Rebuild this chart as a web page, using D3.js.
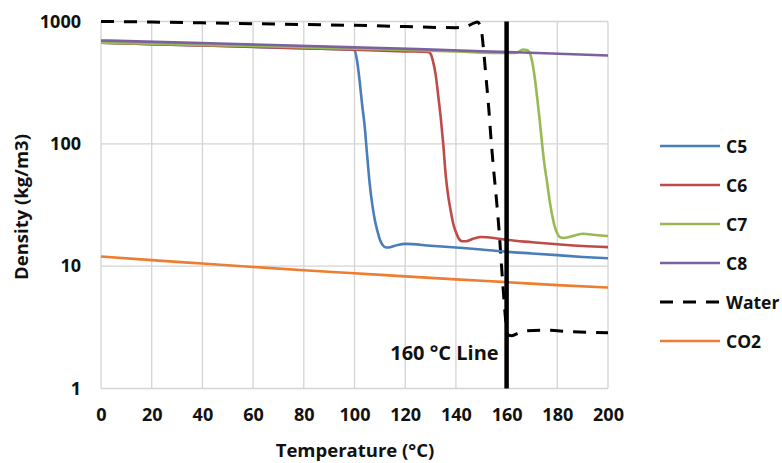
<!DOCTYPE html>
<html>
<head>
<meta charset="utf-8">
<script src="https://cdn.jsdelivr.net/npm/d3@7"></script>
<style>
  html, body { margin: 0; padding: 0; background: #fff; }
  svg { display: block; }
  text { font-family: "Open Sans", "Liberation Sans", sans-serif; fill: #111; }
</style>
</head>
<body>
<svg id="chart" width="782" height="463"></svg>
<script>
// ---- data ----
const xTicks = [0, 20, 40, 60, 80, 100, 120, 140, 160, 180, 200];
const yTicks = [1, 10, 100, 1000];
const seriesNames = ["C5", "C6", "C7", "C8", "Water", "CO2"];

const c5 = [[0,670],[20,652],[40,636],[60,620],[80,603],[100,585],[101,480],[102,330],[103,210],[104,140],[105,80],[106,47],[107,32],[108,24],[109,19.5],[110,16.5],[111,15],[112.5,14.2],[114,14.3],[117,14.9],[120,15.2],[130,14.7],[140,14.2],[150,13.7],[160,13.1],[170,12.7],[180,12.3],[190,11.9],[200,11.6]];
const c6 = [[0,670],[20,653],[40,637],[60,621],[80,604],[100,587],[120,570],[129,563],[130,545],[131,470],[132,370],[133,250],[134,165],[135,100],[136,55],[137,37],[138,28],[139,22],[140,19],[141,17],[142.5,16],[144,16.0],[147,16.8],[150,17.3],[155,17.0],[160,16.4],[170,15.7],[180,15.1],[190,14.6],[200,14.3]];
const c7 = [[0,672],[20,658],[40,644],[60,630],[80,615],[100,600],[120,585],[140,568],[160,552],[164,556],[166.5,590],[168,584],[169,560],[170,480],[171,360],[172,245],[173,160],[174,100],[175,66],[176,48],[177,34],[178,26],[179,21],[180,18.5],[181,17.3],[182.5,17.0],[185,17.4],[190,18.4],[195,18.0],[200,17.6]];
const c8 = [[0,700],[25,678],[50,657],[75,636],[100,615],[125,594],[150,572],[175,550],[200,528]];
const water = [[0,1000],[20,990],[40,975],[60,960],[80,945],[100,930],[120,910],[140,890],[144,905],[147,970],[148.5,990],[150,860],[151,560],[152,330],[153,190],[154,100],[155,58],[156,35],[157,20],[158,10],[159,5.2],[159.7,3.5],[160.5,2.75],[162,2.7],[164,2.8],[168,2.97],[175,3.0],[185,2.92],[200,2.85]];
const co2 = [[0,12],[20,11.2],[40,10.5],[60,9.85],[80,9.25],[100,8.75],[120,8.25],[140,7.8],[160,7.4],[180,7.0],[200,6.7]];
const refLineT = 160;
const refLabel = "160 °C Line";

const seriesData = [c5, c6, c7, c8, water, co2];
const seriesColors = ["#4a7ebb", "#be4b48", "#98b954", "#7d60a0", "#000000", "#ed7d31"];

// ---- layout ----
const svg = d3.select("#chart");
const pL = 101, pR = 608, pT = 21.5, pB = 388.5;

const x = d3.scaleLinear().domain([0, 200]).range([pL, pR]);
const y = d3.scaleLog().domain([1, 1000]).range([pB, pT]);

// gridlines
const grid = svg.append("g");
grid.selectAll("line.v").data(xTicks).join("line").attr("class", "v")
  .attr("x1", d => x(d)).attr("x2", d => x(d))
  .attr("y1", pT).attr("y2", pB)
  .attr("stroke", "#d4d4d4").attr("stroke-width", 1.3);
grid.selectAll("line.h").data(yTicks).join("line").attr("class", "h")
  .attr("y1", d => y(d)).attr("y2", d => y(d))
  .attr("x1", pL).attr("x2", pR)
  .attr("stroke", "#d4d4d4").attr("stroke-width", 1.3);

// axes tick labels via d3 axes
const xAxis = d3.axisBottom(x).tickValues(xTicks).tickSize(0).tickPadding(20).tickFormat(d3.format("d"));
const gx = svg.append("g").attr("transform", `translate(0,${pB})`).call(xAxis);
gx.select(".domain").remove();
gx.selectAll("text").attr("font-size", 18).attr("font-weight", "bold").style("font-family", "'Open Sans', sans-serif").attr("fill", "#111");

const yAxis = d3.axisLeft(y).tickValues(yTicks).tickSize(0).tickPadding(20).tickFormat(d3.format("d"));
const gy = svg.append("g").attr("transform", `translate(${pL},0)`).call(yAxis);
gy.select(".domain").remove();
gy.selectAll("text").attr("font-size", 18).attr("font-weight", "bold").style("font-family", "'Open Sans', sans-serif").attr("fill", "#111");

// series
const line = d3.line().x(d => x(d[0])).y(d => y(d[1])).curve(d3.curveMonotoneX);
const order = [5, 4, 0, 1, 2, 3];
order.forEach(i => {
  const p = svg.append("path").datum(seriesData[i])
    .attr("d", line)
    .attr("fill", "none")
    .attr("stroke", seriesColors[i])
    .attr("stroke-width", i === 4 ? 3 : 2.6)
    .attr("stroke-linejoin", "round");
  if (i === 4) p.attr("stroke-dasharray", "13,10");
});

// 160 °C line
svg.append("line")
  .attr("x1", x(refLineT)).attr("x2", x(refLineT))
  .attr("y1", y(1000)).attr("y2", y(1))
  .attr("stroke", "#000").attr("stroke-width", 4.5);
svg.append("text")
  .attr("x", x(refLineT) - 8).attr("y", 360)
  .attr("text-anchor", "end")
  .attr("font-size", 20).attr("font-weight", "bold")
  .text(refLabel);

// axis titles
svg.append("text")
  .attr("x", 355).attr("y", 457)
  .attr("text-anchor", "middle")
  .attr("font-size", 18.5).attr("font-weight", "bold")
  .text("Temperature (°C)");
svg.append("text")
  .attr("transform", "translate(28,207) rotate(-90)")
  .attr("text-anchor", "middle")
  .attr("font-size", 18.5).attr("font-weight", "bold")
  .text("Density (kg/m3)");

// legend
const legY0 = 146, legStep = 39;
const leg = svg.append("g");
seriesNames.forEach((name, i) => {
  const yy = legY0 + i * legStep;
  const l = leg.append("line")
    .attr("x1", 660).attr("x2", 720).attr("y1", yy).attr("y2", yy)
    .attr("stroke", seriesColors[i]).attr("stroke-width", i === 4 ? 3 : 2.6);
  if (i === 4) l.attr("stroke-dasharray", "13,10");
  leg.append("text")
    .attr("x", 726).attr("y", yy + 6.5)
    .attr("font-size", 17.5).attr("font-weight", "bold")
    .text(name);
});
</script>
</body>
</html>
